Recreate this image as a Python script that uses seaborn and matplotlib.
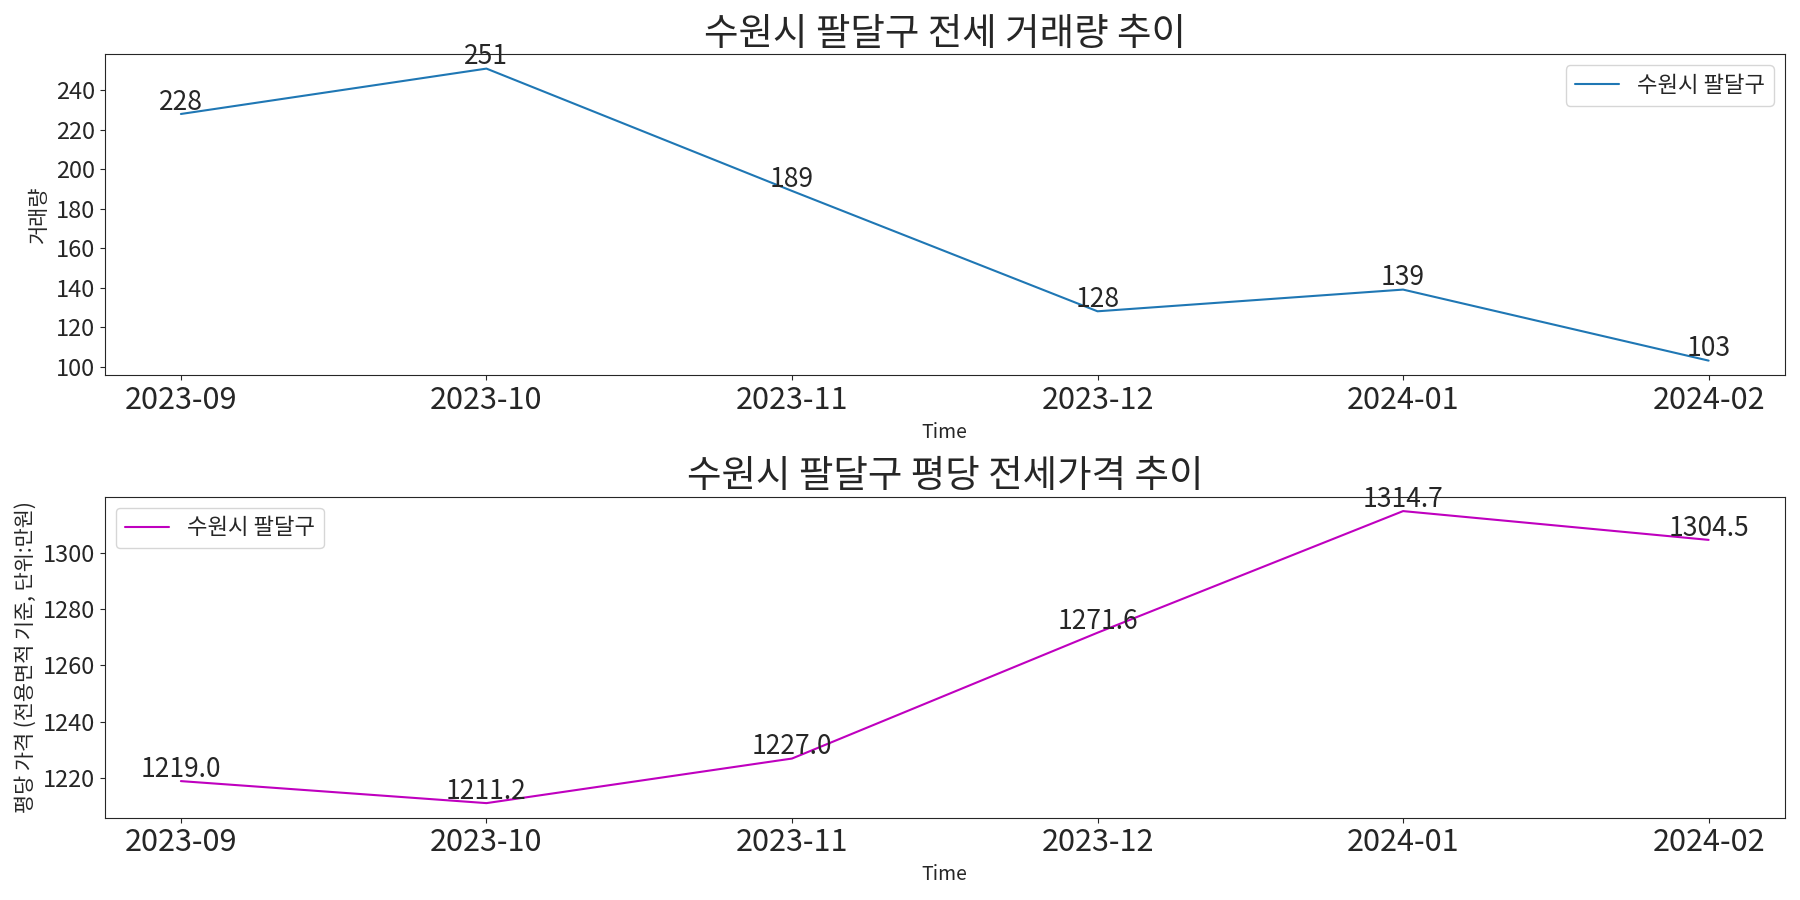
import matplotlib
matplotlib.use("Agg")
import matplotlib.pyplot as plt
from matplotlib.ticker import MultipleLocator
import seaborn as sns
import pandas as pd

# ============================================
# 📦 DATA
# ============================================

months = ["2023-09", "2023-10", "2023-11", "2023-12", "2024-01", "2024-02"]
volume = [228, 251, 189, 128, 139, 103]
price = [1219.0, 1211.2, 1227.0, 1271.6, 1314.7, 1304.5]
region = "수원시 팔달구"

sns.set_style("ticks")
plt.rcParams['font.family'] = ['Noto Sans CJK KR', 'DejaVu Sans']
plt.rcParams['axes.unicode_minus'] = False

df = pd.DataFrame({"Time": months, "volume": volume, "price": price})

fig, axes = plt.subplots(2, 1, figsize=(18, 9), dpi=100)

# 🔹 거래량
ax = axes[0]
sns.lineplot(data=df, x="Time", y="volume", ax=ax, color="#1f77b4",
             label=region, sort=False, linewidth=1.5)
for m, v in zip(months, volume):
    ax.annotate(f"{v}", (m, v), textcoords="offset points", xytext=(0, 3),
                ha="center", fontsize=19)
ax.set_title(f"{region} 전세 거래량 추이", fontsize=27)
ax.set_ylabel("거래량", fontsize=15)
ax.set_xlabel("Time", fontsize=14)
ax.yaxis.set_major_locator(MultipleLocator(20))
ax.tick_params(axis="x", labelsize=22)
ax.tick_params(axis="y", labelsize=17)
ax.legend(loc="upper right", fontsize=16)

# 🔹 평당 가격
ax = axes[1]
sns.lineplot(data=df, x="Time", y="price", ax=ax, color="m",
             label=region, sort=False, linewidth=1.5)
for m, v in zip(months, price):
    ax.annotate(f"{v:.1f}", (m, v), textcoords="offset points", xytext=(0, 3),
                ha="center", fontsize=19)
ax.set_title(f"{region} 평당 전세가격 추이", fontsize=27)
ax.set_ylabel("평당 가격 (전용면적 기준, 단위:만원)", fontsize=15)
ax.set_xlabel("Time", fontsize=14)
ax.tick_params(axis="x", labelsize=22)
ax.tick_params(axis="y", labelsize=17)
ax.legend(loc="upper left", fontsize=16)

plt.tight_layout()
plt.savefig("out.png", dpi=100)
